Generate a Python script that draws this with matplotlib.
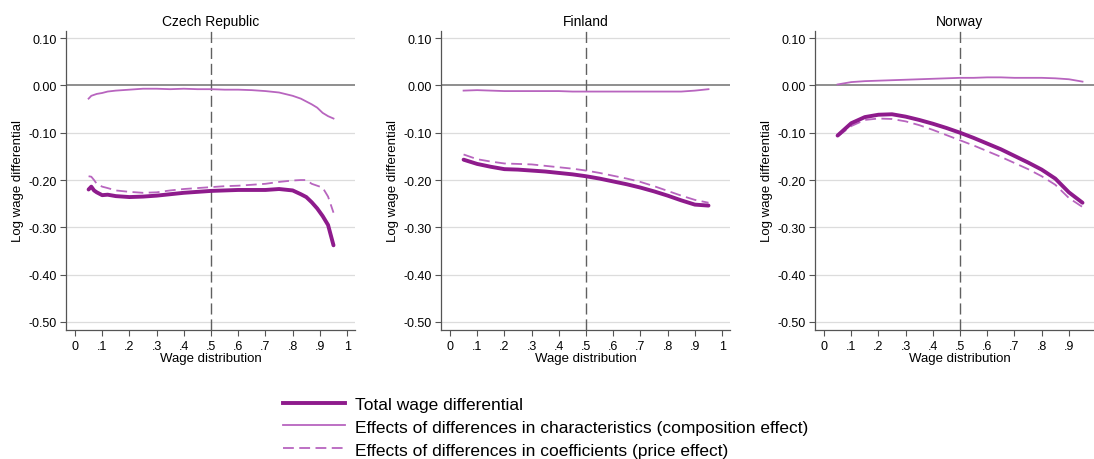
import matplotlib
matplotlib.use("Agg")
import matplotlib.pyplot as plt
from matplotlib.lines import Line2D

plt.rcParams['font.family'] = ['Liberation Sans', 'DejaVu Sans']

# quantile grids
q_cz = [0.05, 0.06, 0.07, 0.08, 0.10, 0.12, 0.15, 0.20, 0.25, 0.30, 0.35, 0.40,
        0.45, 0.50, 0.55, 0.60, 0.65, 0.70, 0.75, 0.80, 0.83, 0.85, 0.87, 0.89,
        0.91, 0.93, 0.95]
q = [0.05, 0.10, 0.15, 0.20, 0.25, 0.30, 0.35, 0.40, 0.45, 0.50, 0.55, 0.60,
     0.65, 0.70, 0.75, 0.80, 0.85, 0.90, 0.95]

# Czech Republic
cz_total = [-0.220, -0.214, -0.222, -0.226, -0.232, -0.231, -0.234, -0.236, -0.235,
            -0.233, -0.230, -0.227, -0.225, -0.223, -0.222, -0.221, -0.221, -0.221,
            -0.219, -0.222, -0.230, -0.236, -0.247, -0.260, -0.276, -0.295, -0.338]
cz_comp = [-0.028, -0.022, -0.020, -0.018, -0.016, -0.013, -0.011, -0.009, -0.007,
           -0.007, -0.008, -0.007, -0.008, -0.008, -0.009, -0.009, -0.010, -0.012,
           -0.015, -0.022, -0.028, -0.034, -0.040, -0.047, -0.058, -0.065, -0.070]
cz_price = [-0.192, -0.193, -0.200, -0.208, -0.214, -0.217, -0.222, -0.225, -0.227,
            -0.226, -0.222, -0.219, -0.217, -0.215, -0.213, -0.212, -0.210, -0.208,
            -0.204, -0.201, -0.200, -0.200, -0.208, -0.212, -0.216, -0.235, -0.269]

# Finland
fi_total = [-0.157, -0.166, -0.172, -0.177, -0.178, -0.180, -0.182, -0.185, -0.188,
            -0.192, -0.197, -0.203, -0.209, -0.216, -0.224, -0.233, -0.243, -0.252,
            -0.254]
fi_comp = [-0.011, -0.010, -0.011, -0.012, -0.012, -0.012, -0.012, -0.012, -0.013,
           -0.013, -0.013, -0.013, -0.013, -0.013, -0.013, -0.013, -0.013, -0.011,
           -0.008]
fi_price = [-0.146, -0.156, -0.161, -0.165, -0.166, -0.167, -0.170, -0.173, -0.176,
            -0.180, -0.185, -0.191, -0.197, -0.204, -0.213, -0.223, -0.233, -0.242,
            -0.248]

# Norway
no_total = [-0.106, -0.080, -0.067, -0.062, -0.061, -0.066, -0.073, -0.081, -0.090,
            -0.100, -0.111, -0.123, -0.135, -0.149, -0.163, -0.178, -0.197, -0.226,
            -0.248]
no_comp = [0.002, 0.007, 0.009, 0.010, 0.011, 0.012, 0.013, 0.014, 0.015, 0.016,
           0.016, 0.017, 0.017, 0.016, 0.016, 0.016, 0.015, 0.013, 0.008]
no_price = [-0.108, -0.086, -0.073, -0.070, -0.071, -0.076, -0.084, -0.094, -0.105,
            -0.116, -0.127, -0.139, -0.151, -0.164, -0.177, -0.192, -0.210, -0.238,
            -0.257]

countries = ["Czech Republic", "Finland", "Norway"]
panels = [(q_cz, cz_total, cz_comp, cz_price),
          (q, fi_total, fi_comp, fi_price),
          (q, no_total, no_comp, no_price)]

labels = ["Total wage differential",
          "Effects of differences in characteristics (composition effect)",
          "Effects of differences in coefficients (price effect)"]

dark = "#8e1b8c"
light = "#b865bf"
yticks = [0.10, 0.00, -0.10, -0.20, -0.30, -0.40, -0.50]
xticks = [0, .1, .2, .3, .4, .5, .6, .7, .8, .9, 1]
xticklabels = ["0", ".1", ".2", ".3", ".4", ".5", ".6", ".7", ".8", ".9", "1"]

fig = plt.figure(figsize=(10.94, 4.6), dpi=100)
lefts = [66, 441, 815]
for i, name in enumerate(countries):
    ax = fig.add_axes([lefts[i] / 1094, 1 - 331 / 460, 289 / 1094, 299 / 460])
    xs, tot, comp, price = panels[i]
    for y in yticks:
        if y != 0:
            ax.axhline(y, color="#dcdcdc", lw=0.9, zorder=0)
    ax.axhline(0, color="#707070", lw=1.1, zorder=1)
    ax.axvline(0.5, color="#606060", lw=1.0, dashes=(8, 3.5), zorder=1)
    ax.plot(xs, comp, color=light, lw=1.3, zorder=3)
    ax.plot(xs, price, color=light, lw=1.3, dashes=(6, 3), zorder=3)
    ax.plot(xs, tot, color=dark, lw=2.8, zorder=4, solid_capstyle="round")
    ax.set_xlim(-0.033, 1.029)
    ax.set_ylim(-0.517, 0.115)
    ax.set_yticks(yticks)
    ax.set_yticklabels(["%.2f" % v if v != 0 else "0.00" for v in yticks])
    ax.set_xticks(xticks)
    ax.set_xticklabels(xticklabels)
    for s in ["top", "right"]:
        ax.spines[s].set_visible(False)
    for s in ["left", "bottom"]:
        ax.spines[s].set_color("#555555")
        ax.spines[s].set_linewidth(0.9)
    ax.tick_params(direction="out", length=4.5, width=0.8, color="#555555",
                   labelsize=9, pad=2)
    ax.tick_params(axis="x", pad=3)
    ax.set_title(name, fontsize=10, pad=4)
    ax.set_xlabel("Wage distribution", fontsize=9.5, labelpad=0)
    ax.set_ylabel("Log wage differential", fontsize=9.5, labelpad=3)

handles = [Line2D([], [], color=dark, lw=2.8),
           Line2D([], [], color=light, lw=1.3),
           Line2D([], [], color=light, lw=1.3, dashes=(6, 3))]
fig.legend(handles, labels, loc="center left", bbox_to_anchor=(283 / 1094, 1 - 428 / 460),
           frameon=False, fontsize=12.5, handlelength=3.55, handletextpad=0.57,
           labelspacing=0.45, borderpad=0, borderaxespad=0)

fig.savefig("out.png", dpi=100)
